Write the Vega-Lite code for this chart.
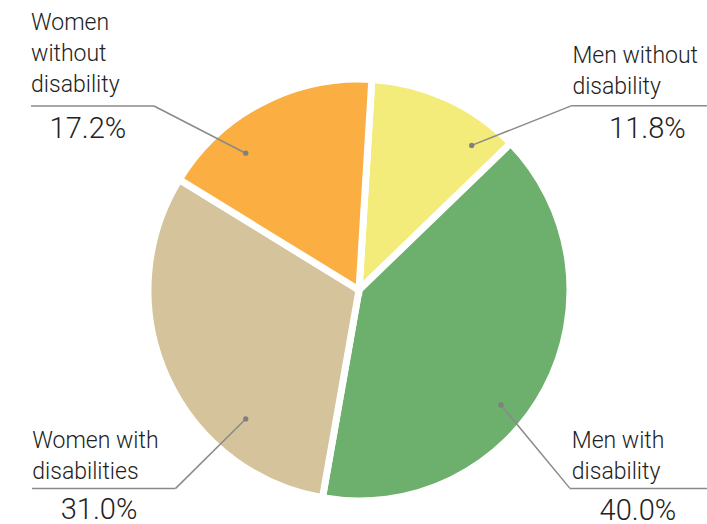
{
  "$schema": "https://vega.github.io/schema/vega-lite/v6.json",
  "autosize": "none",
  "width": 696,
  "height": 468,
  "padding": {"left": 11, "top": 56, "right": 0, "bottom": 0},
  "background": "white",
  "config": {"view": {"stroke": null}, "font": "Roboto"},
  "datasets": {
    "slices": [
      {"group": "Men without disability", "share": 11.8, "k": 1},
      {"group": "Men with disability", "share": 40.0, "k": 2},
      {"group": "Women with disabilities", "share": 31.0, "k": 3},
      {"group": "Women without disability", "share": 17.2, "k": 4}
    ],
    "callouts": [
      {"group": "Men without disability", "label": "Men without\ndisability", "pct": "11.8%", "dotX": 0.547, "dotY": 0.702, "elbowX": 1.033, "elbowY": 0.895, "endX": 1.689, "textX": 1.036, "textY": 1.102, "pctX": 1.4, "pctY": 0.736},
      {"group": "Men with disability", "label": "Men with\ndisability", "pct": "40.0%", "dotX": 0.689, "dotY": -0.558, "elbowX": 1.024, "elbowY": -0.963, "endX": 1.689, "textX": 1.033, "textY": -0.765, "pctX": 1.354, "pctY": -1.117},
      {"group": "Women with disabilities", "label": "Women with\ndisabilities", "pct": "31.0%", "dotX": -0.55, "dotY": -0.626, "elbowX": -0.89, "elbowY": -0.963, "endX": -1.587, "textX": -1.586, "textY": -0.765, "pctX": -1.262, "pctY": -1.112},
      {"group": "Women without disability", "label": "Women\nwithout\ndisability", "pct": "17.2%", "dotX": -0.55, "dotY": 0.664, "elbowX": -0.995, "elbowY": 0.893, "endX": -1.592, "textX": -1.592, "textY": 1.26, "pctX": -1.316, "pctY": 0.738}
    ]
  },
  "layer": [
    {
      "data": {"name": "slices"},
      "mark": {"type": "arc", "outerRadius": 211, "stroke": "white", "strokeWidth": 7, "strokeJoin": "miter"},
      "encoding": {
        "theta": {"field": "share", "type": "quantitative", "stack": true, "scale": {"range": [0.061, 6.344]}},
        "order": {"field": "k", "type": "quantitative"},
        "color": {"field": "group", "type": "nominal", "legend": null,
          "scale": {"domain": ["Men without disability", "Men with disability", "Women with disabilities", "Women without disability"],
                    "range": ["#F3EC7B", "#6DAF6C", "#D4C39B", "#FBAE41"]}}
      }
    },
    {
      "data": {"name": "callouts"},
      "mark": {"type": "rule", "color": "#8a8a8a", "strokeWidth": 1.5},
      "encoding": {
        "x": {"field": "dotX", "type": "quantitative", "axis": null, "scale": {"domain": [-1.6893, 1.6893], "nice": false, "zero": false}},
        "y": {"field": "dotY", "type": "quantitative", "axis": null, "scale": {"domain": [-1.1359, 1.1359], "nice": false, "zero": false}},
        "x2": {"field": "elbowX"},
        "y2": {"field": "elbowY"}
      }
    },
    {
      "data": {"name": "callouts"},
      "mark": {"type": "rule", "color": "#8a8a8a", "strokeWidth": 1.5},
      "encoding": {
        "x": {"field": "elbowX", "type": "quantitative"},
        "x2": {"field": "endX"},
        "y": {"field": "elbowY", "type": "quantitative"}
      }
    },
    {
      "data": {"name": "callouts"},
      "mark": {"type": "point", "filled": true, "color": "#808080", "size": 28, "opacity": 1},
      "encoding": {
        "x": {"field": "dotX", "type": "quantitative"},
        "y": {"field": "dotY", "type": "quantitative"}
      }
    },
    {
      "data": {"name": "callouts"},
      "mark": {"type": "text", "align": "left", "baseline": "alphabetic", "lineBreak": "\n", "lineHeight": 31, "fontSize": 23, "fontWeight": 300, "font": "Roboto", "color": "#222222"},
      "encoding": {
        "x": {"field": "textX", "type": "quantitative"},
        "y": {"field": "textY", "type": "quantitative"},
        "text": {"field": "label"}
      }
    },
    {
      "data": {"name": "callouts"},
      "mark": {"type": "text", "align": "center", "baseline": "alphabetic", "fontSize": 29, "fontWeight": 300, "font": "Roboto", "color": "#222222"},
      "encoding": {
        "x": {"field": "pctX", "type": "quantitative"},
        "y": {"field": "pctY", "type": "quantitative"},
        "text": {"field": "pct"}
      }
    }
  ]
}
